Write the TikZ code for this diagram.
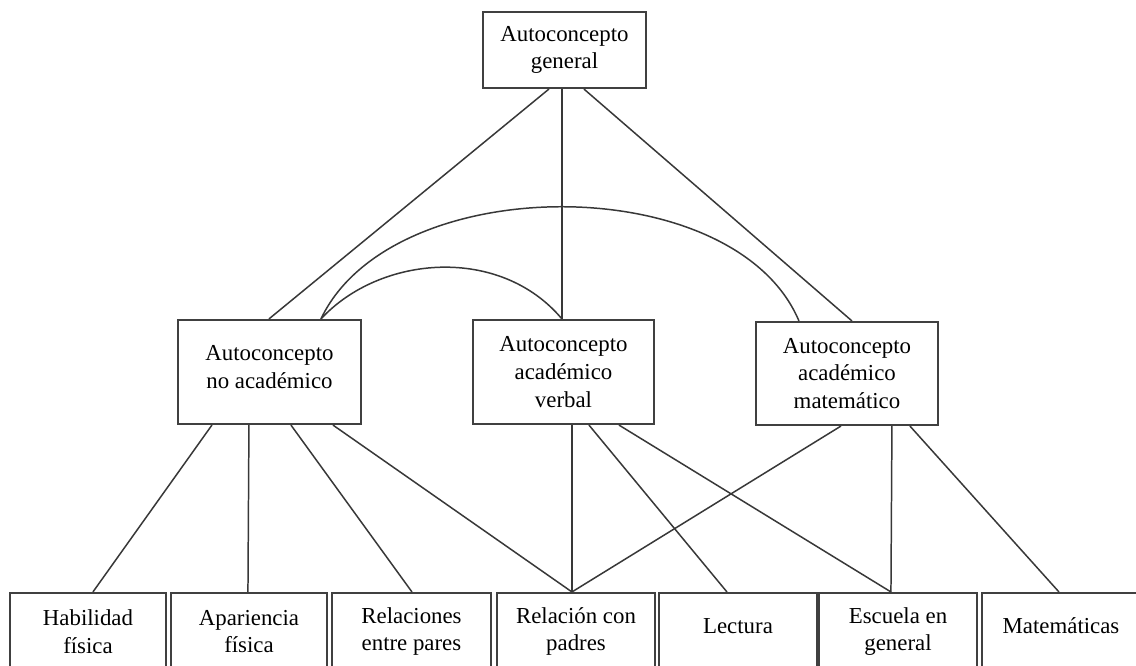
\documentclass[tikz,border=0pt]{standalone}
\usepackage{fontspec}
\setmainfont{Liberation Serif}
\usetikzlibrary{calc}
\newdimen\pxu \pxu=0.02cm
\begin{document}
\begin{tikzpicture}[x=0.02cm,y=-0.02cm,
  box/.style={draw=black!75, line width=1.2pt, fill=white, align=center,
    inner sep=0pt, font=\fontsize{13}{15.8}\selectfont},
  midbox/.style={box, minimum width=182\pxu, minimum height=104\pxu},
  lowbox/.style={box, minimum width=158\pxu, minimum height=77\pxu},
  raised/.style={text depth=#1\pxu},
  link/.style={draw=black!78, line width=0.85pt},
]
\useasboundingbox (0,0) rectangle (1136,666);
\clip (0,0) rectangle (1136,666);
\fill[white] (0,0) rectangle (1136,666);

% top level
\node[box, minimum width=163\pxu, minimum height=76\pxu] (G) at (564.5,50) {Autoconcepto\\general};

% second level
\node[midbox, minimum width=183\pxu, raised=10] (NA) at (269.5,372) {Autoconcepto\\no académico};
\node[midbox, minimum width=181\pxu] (V) at (563.5,372) {Autoconcepto\\académico\\verbal};
\node[midbox, minimum height=103\pxu] (M) at (847,373.5) {Autoconcepto\\académico\\matemático};

% third level
\node[lowbox, minimum width=156\pxu] (B1) at (88,631.5) {Habilidad\\física};
\node[lowbox, minimum width=156\pxu] (B2) at (249,631.5) {Apariencia\\física};
\node[lowbox, minimum width=159\pxu] (B3) at (411.5,631.5) {Relaciones\\entre pares};
\node[lowbox] (B4) at (576,631.5) {Relación con\\padres};
\node[lowbox, raised=11] (B5) at (738,631.5) {Lectura};
\node[lowbox] (B6) at (898,631.5) {Escuela en\\general};
\node[lowbox, raised=11] (B7) at (1061,631.5) {Matemáticas};

% general -> second level
\draw[link] ($(G.south west)+(67,0)$) -- ($(NA.north west)+(92,0)$);
\draw[link] ($(G.south west)+(80,0)$) -- ($(V.north west)+(90,0)$);
\draw[link] ($(G.south west)+(102,0)$) -- ($(M.north west)+(97,0)$);

% correlation arcs
\draw[link] ($(NA.north west)+(144,0)$) .. controls (380,255) and (500,245) .. ($(V.north west)+(90,0)$);
\draw[link] ($(NA.north west)+(144,0)$) .. controls (392,169) and (735,169) .. ($(M.north west)+(44,0)$);

% second level -> third level
\draw[link] ($(NA.south west)+(35,0)$) -- ($(B1.north west)+(84,0)$);
\draw[link] ($(NA.south west)+(72,0)$) -- ($(B2.north west)+(78,0)$);
\draw[link] ($(NA.south west)+(114,0)$) -- ($(B3.north west)+(81,0)$);
\draw[link] ($(NA.south west)+(156,0)$) -- ($(B4.north west)+(76,0)$);
\draw[link] ($(V.south west)+(100,0)$) -- ($(B4.north west)+(76,0)$);
\draw[link] ($(V.south west)+(117,0)$) -- ($(B5.north west)+(69,0)$);
\draw[link] ($(V.south west)+(147,0)$) -- ($(B6.north west)+(73,0)$);
\draw[link] ($(M.south west)+(86,0)$) -- ($(B4.north west)+(76,0)$);
\draw[link] ($(M.south west)+(137,0)$) -- ($(B6.north west)+(73,0)$);
\draw[link] ($(M.south west)+(155,0)$) -- ($(B7.north west)+(78,0)$);
\end{tikzpicture}
\end{document}
